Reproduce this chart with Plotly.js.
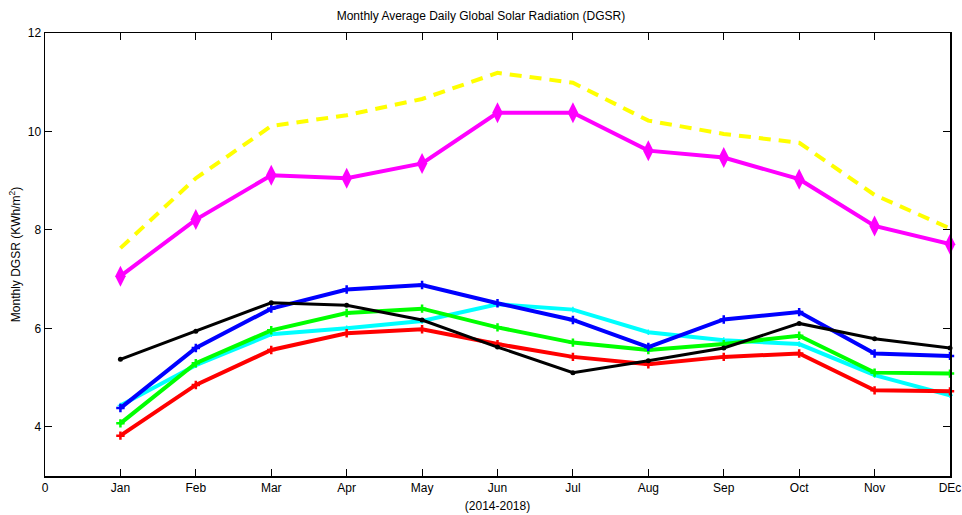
<!DOCTYPE html>
<html>
<head>
<meta charset="utf-8">
<script src="https://cdn.plot.ly/plotly-3.0.1.min.js"></script>
<style>html,body{margin:0;padding:0;background:#fff}#chart{width:962px;height:515px}</style>
</head>
<body>
<div id="chart"></div>
<script>
const monthPos = [1,2,3,4,5,6,7,8,9,10,11,12];
const tickVals = [0,1,2,3,4,5,6,7,8,9,10,11,12];
const tickText = ["0","Jan","Feb","Mar","Apr","May","Jun","Jul","Aug","Sep","Oct","Nov","DEc"];

const yellowSeries  = [7.63, 9.05, 10.11, 10.33, 10.66, 11.19, 10.99, 10.22, 9.95, 9.77, 8.71, 8.03];
const magentaSeries = [7.06, 8.21, 9.11, 9.05, 9.35, 10.38, 10.38, 9.61, 9.47, 9.03, 8.08, 7.71];
const blueSeries    = [4.38, 5.60, 6.40, 6.79, 6.88, 6.51, 6.17, 5.62, 6.18, 6.33, 5.49, 5.44];
const blackSeries   = [5.37, 5.94, 6.52, 6.47, 6.17, 5.62, 5.10, 5.34, 5.60, 6.10, 5.79, 5.60];
const greenSeries   = [4.07, 5.29, 5.96, 6.31, 6.40, 6.02, 5.71, 5.56, 5.68, 5.85, 5.10, 5.08];
const cyanSeries    = [4.43, 5.25, 5.88, 6.00, 6.15, 6.49, 6.38, 5.92, 5.76, 5.68, 5.05, 4.64];
const redSeries     = [3.82, 4.85, 5.56, 5.90, 5.98, 5.68, 5.42, 5.27, 5.42, 5.49, 4.74, 4.72];

function tr(y, color, width, dash, symbol, msize, mline) {
  const t = {
    x: monthPos, y: y, type: 'scatter', mode: symbol ? 'lines+markers' : 'lines',
    line: {color: color, width: width, dash: dash || 'solid'},
    cliponaxis: false, showlegend: false, hoverinfo: 'none'
  };
  if (symbol) {
    t.marker = {symbol: symbol, size: msize, color: color, line: {color: color, width: mline || 0}};
  }
  return t;
}

const data = [
  tr(yellowSeries, '#ffff00', 4, '12px,8px', null),
  tr(magentaSeries, '#ff00ff', 4, null, 'diamond-tall', 15, 0),
  tr(cyanSeries, '#00ffff', 4, null, 'cross-thin-open', 4, 1.5),
  tr(greenSeries, '#00ff00', 4, null, 'cross-thin-open', 6, 2.5),
  tr(redSeries, '#ff0000', 4, null, 'cross-thin-open', 6, 2.5),
  tr(blueSeries, '#0000ff', 4, null, 'cross-thin-open', 6, 2.5),
  tr(blackSeries, '#000000', 3, null, 'circle', 5, 0)
];

const fontFam = '"Liberation Sans", Arial, sans-serif';
const layout = {
  width: 962, height: 515,
  margin: {l: 45, r: 12, t: 33, b: 39},
  paper_bgcolor: '#fff', plot_bgcolor: '#fff',
  font: {family: fontFam, size: 12, color: '#000'},
  title: {text: 'Monthly Average Daily Global Solar Radiation (DGSR)', x: 0.5, xanchor: 'center', y: 0.97, yanchor: 'middle', font: {size: 12, color: '#000', family: fontFam}},
  xaxis: {
    range: [0, 12], tickvals: tickVals, ticktext: tickText,
    ticks: 'inside', ticklen: 7, tickwidth: 1, tickcolor: '#000',
    showline: true, linecolor: '#000', linewidth: 1.5, mirror: 'ticks',
    showgrid: false, zeroline: false,
    tickfont: {size: 12, color: '#000'},
    title: {text: '(2014-2018)', standoff: 7, font: {size: 12, color: '#000'}}
  },
  yaxis: {
    range: [3, 12], tickvals: [4, 6, 8, 10, 12],
    ticks: 'inside', ticklen: 7, tickwidth: 1, tickcolor: '#000',
    showline: true, linecolor: '#000', linewidth: 1.5, mirror: 'ticks',
    showgrid: false, zeroline: false,
    tickfont: {size: 12, color: '#000'},
    title: {text: 'Monthly DGSR (KWh/m<sup>2</sup>)', standoff: 4, font: {size: 12, color: '#000'}}
  }
};

Plotly.newPlot('chart', data, layout, {staticPlot: true, displayModeBar: false});
</script>
</body>
</html>
